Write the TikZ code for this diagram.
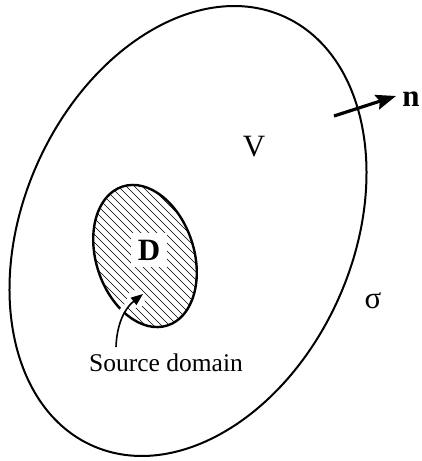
\documentclass[tikz,border=0pt]{standalone}
\usepackage{fontspec}
\setmainfont{Liberation Serif}
\usetikzlibrary{arrows.meta}
\tikzset{
  boundary/.style={line width=2pt},
  hatchline/.style={line width=0.7pt},
  lbl/.style={inner sep=0pt, font=\fontsize{31}{31}\selectfont},
  blbl/.style={inner sep=0pt, font=\fontsize{31}{31}\selectfont\bfseries},
  srclbl/.style={inner sep=0pt, font=\fontsize{25.5}{25.5}\selectfont},
  normalarrow/.style={line width=3.2pt, -{Stealth[length=20pt,width=15pt,inset=3pt]}},
  srcarrow/.style={line width=1.6pt, -{Triangle[length=12pt,width=9pt]}}
}
\begin{document}
\begin{tikzpicture}[x=1pt,y=1pt]
\useasboundingbox (0,0) rectangle (421,-461);
% outer surface sigma
\draw[boundary, rotate around={-24:(188,-231)}] (188,-231) ellipse [x radius=165pt, y radius=235pt];
% hatched source domain
\begin{scope}
  \clip[rotate around={18:(145,-256)}] (145,-256) ellipse [x radius=49pt, y radius=73pt];
  \foreach \c in {-252,-244,...,30} {
    \draw[hatchline] (\c+160,-160) -- (\c+345,-345);
  }
\end{scope}
\draw[line width=2.4pt, rotate around={18:(145,-256)}] (145,-256) ellipse [x radius=49pt, y radius=73pt];
% labels
\node[blbl, fill=white, inner sep=7pt] (D) at (149,-250) {D};
\node[lbl] (V) at (254,-147) {V};
\node[lbl] (sigma) at (373,-301) {σ};
\node[blbl] (n) at (411,-99) {n};
\node[srclbl] (src) at (166,-363) {Source domain};
% normal arrow
\coordinate (nstart) at (334,-116);
\coordinate (ntip) at (396,-96);
\draw[normalarrow] (nstart) -- (ntip);
% source domain arrow
\coordinate (sstart) at (116,-347);
\coordinate (stip) at (143,-294);
\fill[white] (136,-299) circle (9pt);
\draw[white, line width=5pt] (117,-322) to[out=80,in=220] (131,-302);
\draw[srcarrow] (sstart) to[out=88,in=218] (stip);
\end{tikzpicture}
\end{document}
